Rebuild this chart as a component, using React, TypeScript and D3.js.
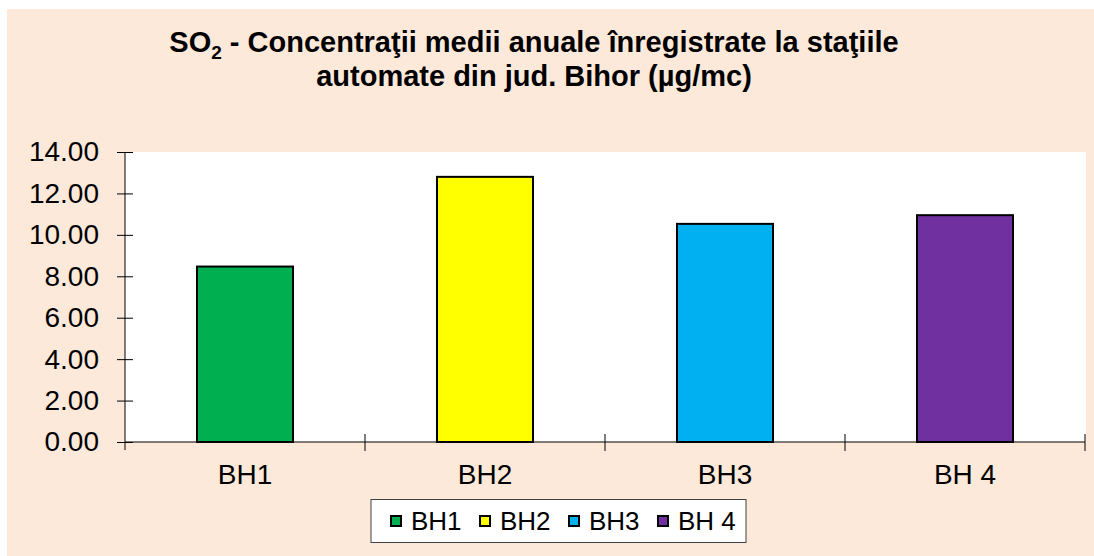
import { useEffect, useRef } from 'react'
import * as d3 from 'd3'

const categories = ['BH1', 'BH2', 'BH3', 'BH 4']
const values = [8.47, 12.8, 10.53, 10.95]
const colors = ['#00B050', '#FFFF00', '#00B0F0', '#7030A0']
const yTicks = [0, 2, 4, 6, 8, 10, 12, 14]

const App = () => {
  const svgRef = useRef<SVGSVGElement>(null)

  useEffect(() => {
    const svg = d3.select(svgRef.current)
    svg.selectAll('*').remove()

    const W = 1094
    const H = 556
    const plot = { left: 125, right: 1086, top: 152, bottom: 442 }
    const font = 'Arial, "Liberation Sans", sans-serif'

    // chart area background
    svg.append('rect').attr('x', 7).attr('y', 9).attr('width', W - 7).attr('height', H - 9).attr('fill', '#FDE9DA')

    // title
    const title = svg
      .append('text')
      .attr('text-anchor', 'middle')
      .style('font-family', font)
      .style('font-weight', 'bold')
      .style('font-size', '29px')
      .attr('fill', '#000')
    const l1 = title.append('tspan').attr('x', 534).attr('y', 52)
    l1.append('tspan').text('SO')
    l1.append('tspan').attr('dy', 7).style('font-size', '19px').text('2')
    l1.append('tspan').attr('dy', -7).text(' - Concentraţii medii anuale înregistrate la staţiile')
    title.append('tspan').attr('x', 534).attr('y', 86).text('automate din jud. Bihor (µg/mc)')

    // plot area
    svg
      .append('rect')
      .attr('x', plot.left)
      .attr('y', plot.top)
      .attr('width', plot.right - plot.left)
      .attr('height', plot.bottom - plot.top)
      .attr('fill', '#fff')

    const x = d3
      .scaleBand()
      .domain(categories)
      .range([plot.left, plot.right - 1])
      .paddingInner(0.6)
      .paddingOuter(0.3)
    const y = d3.scaleLinear().domain([0, 14]).range([plot.bottom, plot.top])

    // bars
    svg
      .selectAll('.bar')
      .data(values)
      .enter()
      .append('rect')
      .attr('class', 'bar')
      .attr('x', (d, i) => x(categories[i]))
      .attr('y', (d) => y(d))
      .attr('width', x.bandwidth())
      .attr('height', (d) => y(0) - y(d))
      .attr('fill', (d, i) => colors[i])
      .attr('stroke', '#000')
      .attr('stroke-width', 2)

    // y axis
    const yAxis = svg
      .append('g')
      .attr('transform', `translate(${plot.left}, 0)`)
      .call(
        d3
          .axisLeft(y)
          .tickValues(yTicks)
          .tickFormat(d3.format('.2f'))
          .tickSizeInner(8)
          .tickSizeOuter(0)
          .tickPadding(18)
      )
    yAxis.selectAll('.tick line').attr('x2', -8).attr('x1', 8)
    yAxis.select('.domain').attr('d', `M0,${plot.top}V${plot.bottom + 8}`)

    // x axis
    const xAxis = svg
      .append('g')
      .attr('transform', `translate(0, ${plot.bottom})`)
      .call(d3.axisBottom(x).tickSize(0).tickPadding(22))
    xAxis.select('.domain').attr('d', `M${plot.left},0H${plot.right - 1}`)
    const step = x.step()
    const bounds = d3.range(categories.length + 1).map((i) => plot.left + i * step)
    xAxis
      .selectAll('.cat-tick')
      .data(bounds.slice(1))
      .enter()
      .append('line')
      .attr('x1', (d) => d)
      .attr('x2', (d) => d)
      .attr('y1', -8)
      .attr('y2', 9)
      .attr('stroke', '#000')

    svg
      .selectAll('.domain, .tick line')
      .attr('stroke', '#000')
      .attr('stroke-width', 1)
    svg
      .selectAll('.tick text')
      .style('font-family', font)
      .style('font-size', '28px')
      .attr('fill', '#000')

    // legend
    const legend = svg.append('g')
    legend
      .append('rect')
      .attr('x', 371)
      .attr('y', 499.5)
      .attr('width', 375)
      .attr('height', 43)
      .attr('fill', '#fff')
      .attr('stroke', '#404040')
      .attr('stroke-width', 1)
    const lx = d3.scalePoint().domain(categories).range([391, 658])
    const item = legend
      .selectAll('.item')
      .data(categories)
      .enter()
      .append('g')
      .attr('transform', (d) => `translate(${lx(d)}, 521)`)
    item
      .append('rect')
      .attr('x', 0)
      .attr('y', -5)
      .attr('width', 10)
      .attr('height', 10)
      .attr('fill', (d, i) => colors[i])
      .attr('stroke', '#000')
      .attr('stroke-width', 2)
    item
      .append('text')
      .attr('x', 20)
      .attr('dy', '0.36em')
      .style('font-family', font)
      .style('font-size', '26px')
      .text((d) => d)
  }, [])

  return (
    <svg
      ref={svgRef}
      width='1094'
      height='556'
      style={{ position: 'absolute', left: 0, top: 0, background: '#fff' }}
    />
  )
}

export default App
